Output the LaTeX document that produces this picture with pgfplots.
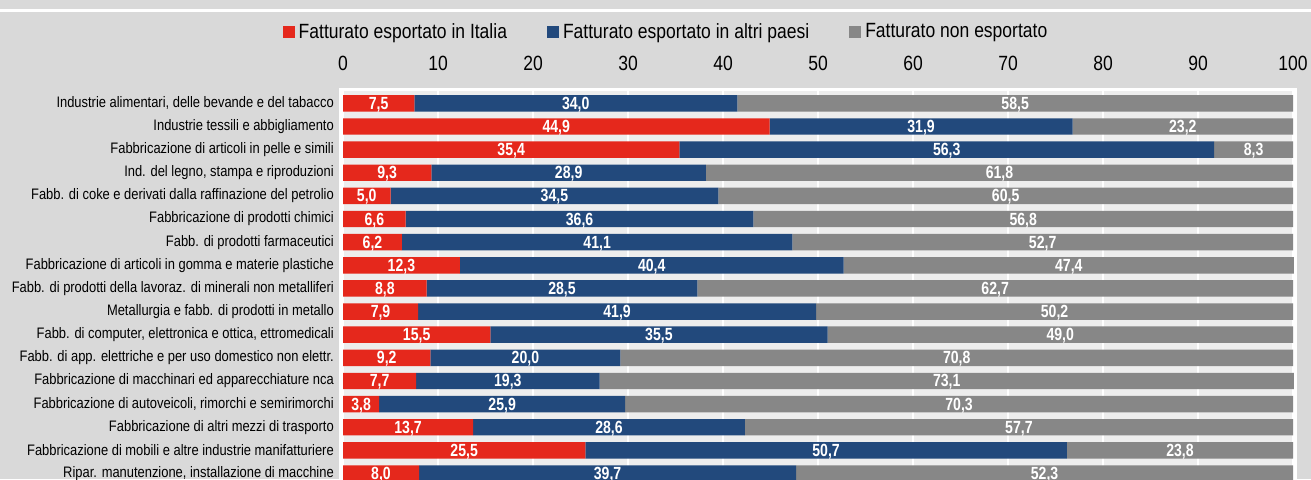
\documentclass[border=0pt]{standalone}
\usepackage{fontspec}
\setmainfont{Liberation Sans}[FakeStretch=0.85]
\newfontfamily\labfont{Liberation Sans}[FakeStretch=0.8]
\usepackage{pgfplots}
\pgfplotsset{compat=1.18}
\usepackage{pgfplotstable}
\definecolor{cred}{HTML}{E5281C}
\definecolor{cblue}{HTML}{22497C}
\definecolor{cgray}{HTML}{878787}
\definecolor{cbg}{HTML}{D9D9D9}
\definecolor{cplot}{HTML}{EDEDED}

\pgfplotstableread{
idx ita altri non
0 7.5 34.0 58.5
1 44.9 31.9 23.2
2 35.4 56.3 8.3
3 9.3 28.9 61.8
4 5.0 34.5 60.5
5 6.6 36.6 56.8
6 6.2 41.1 52.7
7 12.3 40.4 47.4
8 8.8 28.5 62.7
9 7.9 41.9 50.2
10 15.5 35.5 49.0
11 9.2 20.0 70.8
12 7.7 19.3 73.1
13 3.8 25.9 70.3
14 13.7 28.6 57.7
15 25.5 50.7 23.8
16 8.0 39.7 52.3
}\datatable
% segment centres, derived from the values above
\pgfplotstablecreatecol[create col/expr={\thisrow{ita}/2}]{mita}\datatable
\pgfplotstablecreatecol[create col/expr={\thisrow{ita}+\thisrow{altri}/2}]{maltri}\datatable
\pgfplotstablecreatecol[create col/expr={\thisrow{ita}+\thisrow{altri}+\thisrow{non}/2}]{mnon}\datatable

\pgfplotsset{
  geom/.style={
    at={(170.08pt,-44.5pt)}, anchor=north west,
    scale only axis, width=477.85pt, height=201.5pt,
    xmin=-0.3, xmax=100.3, ymin=-0.62, ymax=16.8,
    y dir=reverse,
  },
  lab/.style={draw=none, mark=none, nodes near coords,
    point meta=explicit,
    nodes near coords={\pgfmathprintnumber[fixed,fixed zerofill,precision=1,use comma,assume math mode=true]{\pgfplotspointmeta}},
    every node near coord/.append style={anchor=center, text=white,
      font=\labfont\bfseries\fontsize{8.8pt}{9pt}\selectfont, inner sep=0pt, yshift=-0.6pt}},
}

\begin{document}
\begin{tikzpicture}
\useasboundingbox (0,0) rectangle (655.5pt,-239.5pt);
\fill[cbg] (0,0) rectangle (655.5pt,-239.5pt);
\fill[white] (0,-4.5pt) rectangle (655.5pt,-6pt);
\clip (0,0) rectangle (655.5pt,-239.5pt);
\begin{axis}[
  geom,
  xbar stacked, bar width=0.71,
  axis background/.style={fill=cplot},
  axis line style={white, line width=1.5pt},
  major tick length=0pt,
  xtick={0,10,...,100},
  xticklabel pos=upper,
  xmajorgrids, grid style={white, line width=1pt},
  xticklabel style={font=\fontsize{10.3pt}{11pt}\selectfont, inner sep=0pt, yshift=9.2pt},
  /pgf/number format/assume math mode=true,
  ytick={0,...,16},
  yticklabels={
    {Industrie alimentari, delle bevande e del tabacco},
    {Industrie tessili e abbigliamento},
    {Fabbricazione di articoli in pelle e simili},
    {Ind. del legno, stampa e riproduzioni},
    {Fabb. di coke e  derivati dalla raffinazione del petrolio},
    {Fabbricazione di prodotti chimici},
    {Fabb. di prodotti farmaceutici},
    {Fabbricazione di articoli in gomma e materie plastiche},
    {Fabb. di prodotti della lavoraz. di minerali non metalliferi},
    {Metallurgia e fabb. di prodotti in metallo},
    {Fabb. di computer, elettronica e ottica, ettromedicali},
    {Fabb. di app. elettriche e per uso domestico non elettr.},
    {Fabbricazione di macchinari ed apparecchiature nca},
    {Fabbricazione di autoveicoli, rimorchi e semirimorchi},
    {Fabbricazione di altri mezzi di trasporto},
    {Fabbricazione di mobili e altre industrie manifatturiere},
    {Ripar. manutenzione, installazione di macchine}},
  yticklabel style={font=\fontsize{7.6pt}{8pt}\selectfont, inner sep=0pt, xshift=-3pt, anchor=east},
  legend columns=3,
  legend image code/.code={\fill[#1] (0pt,-3pt) rectangle (6pt,3pt);},
  legend style={at={(0.342,1.141)}, anchor=center, draw=none, fill=none,
    font=\fontsize{10.3pt}{11pt}\selectfont,
    /tikz/every even column/.append style={column sep=18pt}},
]
\addplot[fill=cred, draw=none] table[x=ita, y=idx] \datatable;
\addplot[fill=cblue, draw=none] table[x=altri, y=idx] \datatable;
\addplot[fill=cgray, draw=none] table[x=non, y=idx] \datatable;
\legend{Fatturato esportato in Italia, Fatturato esportato in altri paesi, Fatturato non esportato}
\end{axis}
\begin{axis}[geom, hide axis, clip=false]
\addplot[lab] table[x=mita, y=idx, meta=ita] \datatable;
\addplot[lab] table[x=maltri, y=idx, meta=altri] \datatable;
\addplot[lab] table[x=mnon, y=idx, meta=non] \datatable;
\end{axis}
\end{tikzpicture}
\end{document}
